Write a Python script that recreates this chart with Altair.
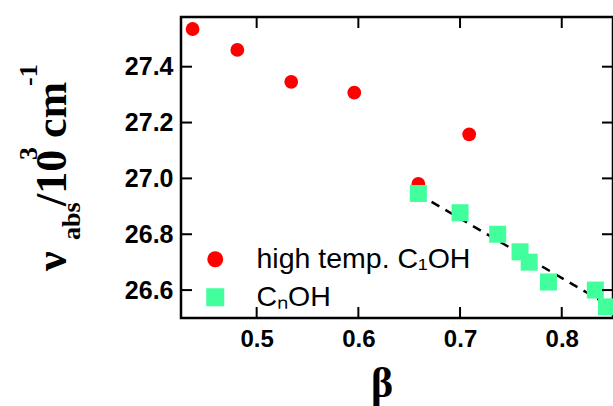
import altair as alt
import pandas as pd

# ---- data ----
hot_beta = [0.437, 0.481, 0.534, 0.596, 0.709, 0.659]
hot_nu = [27.535, 27.46, 27.346, 27.307, 27.158, 26.98]
cn_beta = [0.659, 0.700, 0.737, 0.759, 0.768, 0.787, 0.833, 0.844]
cn_nu = [26.946, 26.877, 26.80, 26.737, 26.70, 26.629, 26.60, 26.54]
fit_beta = [0.672, 0.8504]
fit_nu = [26.916, 26.536]
series_names = ["high temp. C\u2081OH", "C\u2099OH"]
x_ticks = [0.5, 0.6, 0.7, 0.8]
y_ticks = [26.6, 26.8, 27.0, 27.2, 27.4]

hot = pd.DataFrame({"beta": hot_beta, "nu": hot_nu, "series": series_names[0]})
cn = pd.DataFrame({"beta": cn_beta, "nu": cn_nu, "series": series_names[1]})
fit = pd.DataFrame({"beta": fit_beta, "nu": fit_nu})
xt = pd.DataFrame({"beta": x_ticks})
yt = pd.DataFrame({"nu": y_ticks})
one = pd.DataFrame({"a": [0]})

W, H = 432, 301
xs = alt.Scale(domain=[0.4256, 0.8504], zero=False, nice=False)
ys = alt.Scale(domain=[26.50, 27.578], zero=False, nice=False)

xaxis = alt.Axis(values=x_ticks, format=".1f", labelFont="Liberation Sans", labelFontSize=24,
                 labelFontWeight="bold", labelColor="black", labelPadding=9, ticks=False,
                 domain=False, grid=False, title="")
yaxis = alt.Axis(values=y_ticks, format=".1f", labelFont="Liberation Sans", labelFontSize=25,
                 labelFontWeight="bold", labelColor="black", labelPadding=8, ticks=False,
                 domain=False, grid=False, title="")

X = alt.X("beta:Q", scale=xs, axis=xaxis)
Y = alt.Y("nu:Q", scale=ys, axis=yaxis)

line = alt.Chart(fit).mark_line(color="black", strokeWidth=2.5, strokeDash=[9, 7], clip=True).encode(x=X, y=Y)

leg = dict(title=None, orient="none", legendX=20, legendY=228,
           symbolSize=alt.ExprRef(expr="datum.value == '" + series_names[1] + "' ? 324 : 254"),
           symbolStrokeWidth=0, labelFont="Liberation Sans",
           labelFontSize=28.5, labelColor="black", labelOffset=27,
           rowPadding=9, padding=0, labelLimit=400)

C = alt.Color("series:N", sort=series_names,
              scale=alt.Scale(domain=series_names, range=["#ff0000", "#42ff9e"]),
              legend=alt.Legend(**leg))
S = alt.Shape("series:N", sort=series_names,
              scale=alt.Scale(domain=series_names, range=["circle", "square"]),
              legend=alt.Legend(**leg))

circles = alt.Chart(hot).mark_point(filled=True, opacity=1, size=190, clip=True).encode(x=X, y=Y, color=C, shape=S)
squares = alt.Chart(cn).mark_point(filled=True, opacity=1, size=289, clip=True).encode(x=X, y=Y, color=C, shape=S)

TL = 11
tick_x_top = alt.Chart(xt).mark_rule(color="black", strokeWidth=2).encode(x=X, y=alt.value(0), y2=alt.value(TL))
tick_x_bot = alt.Chart(xt).mark_rule(color="black", strokeWidth=2).encode(x=X, y=alt.value(H), y2=alt.value(H - TL))
tick_y_left = alt.Chart(yt).mark_rule(color="black", strokeWidth=2).encode(y=Y, x=alt.value(0), x2=alt.value(TL))
tick_y_right = alt.Chart(yt).mark_rule(color="black", strokeWidth=2).encode(y=Y, x=alt.value(W), x2=alt.value(W - TL))


def txt(s, x, y, size, angle=270, align="left", font="Liberation Serif", weight="bold"):
    return alt.Chart(one).mark_text(text=s, font=font, fontSize=size, fontWeight=weight,
                                    angle=angle, align=align, baseline="alphabetic",
                                    color="black").encode(x=alt.value(x), y=alt.value(y))


OX, OY = 181, 17
titles = [
    txt("\u03bd", 66 - OX, 271 - OY, 44),
    txt("abs", 80 - OX, 240 - OY, 26),
    txt("/10", 66 - OX, 206 - OY, 44),
    txt("3", 37 - OX, 160 - OY, 26),
    txt("cm", 66 - OX, 138 - OY, 44),
    txt("-1", 37 - OX, 86 - OY, 26),
    txt("\u03b2", 382 - OX, 397 - OY, 42, angle=0, align="center", weight="bold"),
]

chart = alt.layer(line, circles, squares, tick_x_top, tick_x_bot, tick_y_left, tick_y_right, *titles).properties(
    width=W, height=H,
    autosize=alt.AutoSizeParams(type="none"),
    padding={"left": OX, "top": OY, "right": 0, "bottom": 406 - OY - H},
    background="white",
).configure_view(stroke="black", strokeWidth=2.5)

chart.save("out.html", embed_options={"renderer": "svg", "actions": False})
